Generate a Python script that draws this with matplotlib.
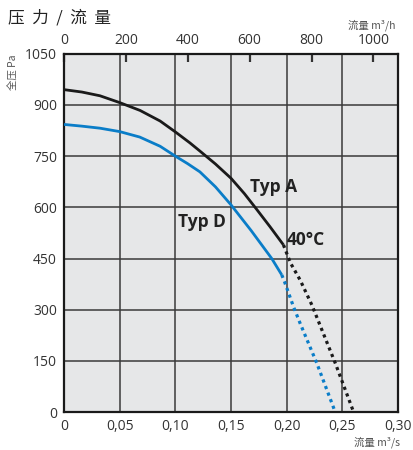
import matplotlib.pyplot as plt
from matplotlib.ticker import FixedLocator, FuncFormatter

plt.rcParams['font.family'] = ['Open Sans', 'Noto Sans CJK SC', 'DejaVu Sans']

# Typ A curve (m3/s, Pa)
a_x = [0, 0.016, 0.0323, 0.05, 0.0683, 0.0863, 0.10, 0.113, 0.122, 0.136, 0.15, 0.162, 0.173, 0.185, 0.197]
a_y = [945, 938, 927, 907, 884, 853, 821, 789, 765, 727, 685, 640, 594, 543, 490]
a_dot_x = [0.197, 0.2035, 0.212, 0.2225, 0.2256, 0.2436, 0.26]
a_dot_y = [490, 436, 387, 314, 289, 143, 0]

# Typ D curve
d_x = [0, 0.016, 0.0323, 0.05, 0.068, 0.0863, 0.10, 0.111, 0.122, 0.136, 0.15, 0.168, 0.1865, 0.1955]
d_y = [843, 838, 832, 822, 806, 779, 750, 728, 704, 660, 607, 532, 450, 402]
d_dot_x = [0.1955, 0.198, 0.206, 0.212, 0.227, 0.2435]
d_dot_y = [402, 382, 309, 260, 143, 0]

x_ticks = [0, 0.05, 0.10, 0.15, 0.20, 0.25, 0.30]
y_ticks = [0, 150, 300, 450, 600, 750, 900, 1050]
top_ticks = [0, 200, 400, 600, 800, 1000]

blue = '#0a7dc8'
black = '#1a1a1a'

fig = plt.figure(figsize=(4.13, 4.5), dpi=100)
ax = fig.add_axes([0.155, 0.0844, 0.809, 0.796])
ax.set_facecolor('#e6e7e8')

ax.plot(a_x, a_y, color=black, lw=2.0, solid_capstyle='butt', solid_joinstyle='round', zorder=3)
ax.plot(a_dot_x, a_dot_y, color=black, lw=2.3, linestyle=(0, (1, 1.2)), zorder=3)
ax.plot(d_x, d_y, color=blue, lw=2.0, solid_capstyle='butt', solid_joinstyle='round', zorder=3)
ax.plot(d_dot_x, d_dot_y, color=blue, lw=2.3, linestyle=(0, (1, 1.2)), zorder=3)

ax.set_xlim(0, 0.30)
ax.set_ylim(0, 1050)
ax.set_xticks(x_ticks)
ax.set_yticks(y_ticks)
ax.xaxis.set_major_formatter(FuncFormatter(lambda v, p: '0' if v == 0 else f'{v:.2f}'.replace('.', ',')))
ax.grid(True, color='#3a3a3a', lw=1.1, zorder=1)
ax.tick_params(length=0, labelsize=10, colors='#333333', pad=5)
for s in ax.spines.values():
    s.set_linewidth(1.6)
    s.set_color('#1a1a1a')

top = ax.secondary_xaxis('top', functions=(lambda v: v * 3600, lambda v: v / 3600))
top.xaxis.set_major_locator(FixedLocator(top_ticks))
top.tick_params(direction='in', length=6, width=1.6, labelsize=10, colors='#333333', pad=4)
top.spines['top'].set_visible(False)

ax.text(0.167, 660, 'Typ A', fontsize=12.5, fontweight='bold', color='#222222', va='center')
ax.text(0.1025, 557, 'Typ D', fontsize=12.5, fontweight='bold', color='#222222', va='center')
ax.text(0.200, 504, '40°C', fontsize=12.5, fontweight='bold', color='#222222', va='center')

fig.text(8 / 413, 1 - 18 / 450, '压  力  /  流  量', fontsize=12, color='#222222', va='center',
         family=['Noto Sans CJK SC', 'DejaVu Sans'])
fig.text(14 / 413, 1 - 72 / 450, '全压 Pa', fontsize=7.5, color='#555555', rotation=90,
         ha='center', va='center', family=['Noto Sans CJK SC', 'DejaVu Sans'])
fig.text(396 / 413, 1 - 25 / 450, '流量 m³/h', fontsize=7.5, color='#555555', ha='right',
         va='center', family=['Noto Sans CJK SC', 'DejaVu Sans'])
fig.text(400 / 413, 1 - 442 / 450, '流量 m³/s', fontsize=7.5, color='#555555', ha='right',
         va='center', family=['Noto Sans CJK SC', 'DejaVu Sans'])

fig.savefig('out.png', dpi=100)
